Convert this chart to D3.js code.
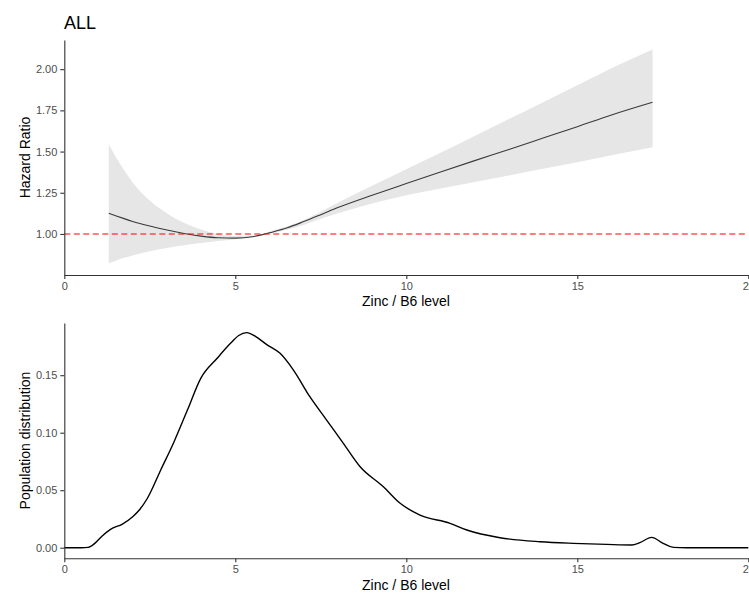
<!DOCTYPE html>
<html>
<head>
<meta charset="utf-8">
<script src="https://cdn.jsdelivr.net/npm/d3@7"></script>
<style>
  body { margin: 0; background: #fff; }
  text { font-family: "Liberation Sans", Arial, sans-serif; }
  .domain, .tick line { stroke: #333; stroke-width: 1.1; }
</style>
</head>
<body>
<script>
// hazard ratio spline (fit + 95% CI)
const hrX     = [1.3, 1.5, 1.75, 2, 2.5, 3, 3.5, 4, 4.5, 5, 5.5, 5.8, 6, 6.5, 7, 7.5, 8, 9, 10, 11, 12, 13, 14, 15, 16, 17.2];
const hrFit   = [1.126, 1.111, 1.093, 1.076, 1.048, 1.024, 1.003, 0.987, 0.977, 0.975, 0.983, 0.996, 1.007, 1.036, 1.075, 1.117, 1.160, 1.235, 1.306, 1.376, 1.445, 1.513, 1.582, 1.651, 1.722, 1.799];
const hrUpper = [1.544, 1.47, 1.387, 1.313, 1.203, 1.126, 1.068, 1.027, 1.0, 0.988, 0.99, 1.0, 1.015, 1.045, 1.085, 1.135, 1.19, 1.293, 1.393, 1.493, 1.595, 1.697, 1.8, 1.903, 2.006, 2.12];
const hrLower = [0.822, 0.838, 0.855, 0.870, 0.895, 0.915, 0.931, 0.945, 0.957, 0.968, 0.98, 0.993, 1.0, 1.026, 1.055, 1.092, 1.125, 1.185, 1.235, 1.276, 1.315, 1.355, 1.395, 1.435, 1.477, 1.526];

// population density
const densX = [0, 0.5, 0.7, 0.9, 1.1, 1.35, 1.7, 2.0, 2.2, 2.43, 2.82, 3.21, 3.6, 3.99, 4.47, 4.86, 5.1, 5.33, 5.6, 5.9, 6.31, 6.7, 7.18, 7.67, 8.16, 8.65, 9.33, 9.82, 10.4, 11.28, 11.77, 12.74, 13.91, 14.88, 15.86, 16.59, 16.83, 17.17, 17.51, 17.81, 18.2, 20];
const densY = [0, 0, 0.0003, 0.004, 0.010, 0.016, 0.0206, 0.027, 0.033, 0.043, 0.0676, 0.0922, 0.1197, 0.1473, 0.1647, 0.1777, 0.1845, 0.187, 0.1835, 0.177, 0.169, 0.1545, 0.1313, 0.111, 0.0908, 0.0704, 0.053, 0.0386, 0.0284, 0.0212, 0.0154, 0.0087, 0.0052, 0.0038, 0.0029, 0.0024, 0.0044, 0.009, 0.0038, 0.0003, 0, 0];

const xTicks = [0, 5, 10, 15, 20];
const hrTicks = [1.00, 1.25, 1.50, 1.75, 2.00];
const densTicks = [0, 0.05, 0.10, 0.15];

const W = 749, H = 593;
const svg = d3.select("body").append("svg")
    .attr("width", W)
    .attr("height", H);

const x = d3.scaleLinear().domain([0, 20]).range([64.3, 748.3]);

let styleAxis = g => {
  g.selectAll(".tick text")
      .attr("fill", "#4d4d4d")
      .style("font-size", "11px");
};

// ---- top panel ----
const yTop = d3.scaleLinear().domain([0.751, 2.177]).range([275, 40]);

const hr = hrX.map((v, i) => ({x: v, fit: hrFit[i], lo: hrLower[i], hi: hrUpper[i]}));

svg.append("path")
    .datum(hr)
    .attr("fill", "#e6e6e6")
    .attr("d", d3.area()
        .curve(d3.curveMonotoneX)
        .x(d => x(d.x))
        .y0(d => yTop(d.lo))
        .y1(d => yTop(d.hi)));

svg.append("path")
    .datum(hr)
    .attr("fill", "none")
    .attr("stroke", "#3a3a3a")
    .attr("stroke-width", 1.1)
    .attr("d", d3.line()
        .curve(d3.curveMonotoneX)
        .x(d => x(d.x))
        .y(d => yTop(d.fit)));

svg.append("line")
    .attr("x1", x(0)).attr("x2", x(20))
    .attr("y1", yTop(1)).attr("y2", yTop(1))
    .attr("stroke", "#ff0000")
    .attr("stroke-width", 1.1)
    .attr("stroke-dasharray", "6,3.5");

svg.append("g")
    .attr("transform", "translate(0,275)")
    .call(d3.axisBottom(x).tickValues(xTicks).tickSize(4).tickSizeOuter(0).tickPadding(3))
    .call(styleAxis);

svg.append("g")
    .attr("transform", "translate(64.3,0)")
    .call(d3.axisLeft(yTop).tickValues(hrTicks).tickFormat(d3.format(".2f")).tickSize(4).tickSizeOuter(0).tickPadding(3))
    .call(styleAxis);

svg.append("text")
    .attr("x", 64).attr("y", 29)
    .style("font-size", "18px")
    .text("ALL");

svg.append("text")
    .attr("x", 406).attr("y", 306)
    .attr("text-anchor", "middle")
    .style("font-size", "14px")
    .text("Zinc / B6 level");

svg.append("text")
    .attr("transform", "translate(30,157.5) rotate(-90)")
    .attr("text-anchor", "middle")
    .style("font-size", "14px")
    .text("Hazard Ratio");

// ---- bottom panel ----
const yBot = d3.scaleLinear().domain([-0.0092, 0.1954]).range([558.3, 323]);

svg.append("path")
    .datum(densX.map((v, i) => [v, densY[i]]))
    .attr("fill", "none")
    .attr("stroke", "#000")
    .attr("stroke-width", 1.4)
    .attr("d", d3.line()
        .curve(d3.curveMonotoneX)
        .x(d => x(d[0]))
        .y(d => yBot(d[1])));

svg.append("g")
    .attr("transform", "translate(0,558.3)")
    .call(d3.axisBottom(x).tickValues(xTicks).tickSize(4).tickSizeOuter(0).tickPadding(3))
    .call(styleAxis);

svg.append("g")
    .attr("transform", "translate(64.3,0)")
    .call(d3.axisLeft(yBot).tickValues(densTicks).tickFormat(d3.format(".2f")).tickSize(4).tickSizeOuter(0).tickPadding(3))
    .call(styleAxis);

svg.append("text")
    .attr("x", 406).attr("y", 590)
    .attr("text-anchor", "middle")
    .style("font-size", "14px")
    .text("Zinc / B6 level");

svg.append("text")
    .attr("transform", "translate(30,440.5) rotate(-90)")
    .attr("text-anchor", "middle")
    .style("font-size", "14px")
    .text("Population distribution");
</script>
</body>
</html>
